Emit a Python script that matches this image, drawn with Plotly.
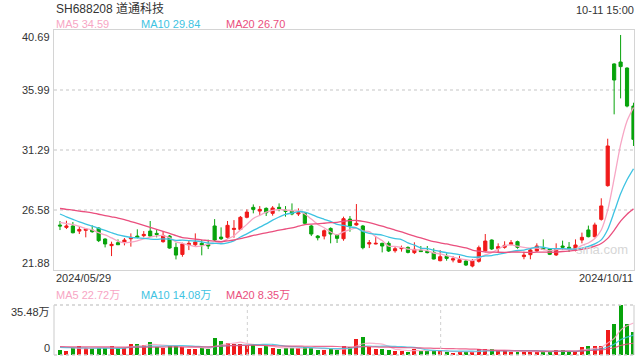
import plotly.graph_objects as go

# ---------------- data ----------------
title_text = "SH688208 道通科技"
time_text = "10-11 15:00"
date_labels = ["2024/05/29", "2024/10/11"]
price_ticks = [40.69, 35.99, 31.29, 26.58, 21.88]
vol_max = 35.48  # 万
price_ma_last = [34.59, 29.84, 26.70]
vol_ma_last = [22.72, 14.08, 8.35]

open_ = [25.40, 25.22, 25.33, 24.93, 24.99, 25.01, 25.17, 24.31, 23.79, 24.02,
         24.07, 24.33, 24.54, 24.57, 24.93, 24.75, 24.10, 24.54, 23.65, 23.10,
         23.86, 23.86, 23.97, 23.89, 25.33, 24.46, 24.44, 25.06, 25.06, 26.01,
         26.79, 26.50, 26.71, 26.32, 26.79, 26.58, 26.50, 26.27, 26.32, 25.33,
         24.54, 24.54, 25.14, 24.62, 24.33, 25.87, 25.41, 25.33, 23.92, 23.92,
         23.97, 23.97, 23.39, 23.55, 23.65, 23.24, 23.42, 23.34, 23.26, 22.61,
         22.95, 22.66, 22.48, 22.58, 22.19, 22.56, 23.39, 24.23, 23.56, 23.66,
         23.89, 24.10, 22.93, 23.08, 23.37, 23.60, 23.53, 23.06, 23.76, 23.66,
         23.45, 24.23, 25.02, 24.49, 25.85, 28.49, 38.03, 38.18, 37.71, 34.73]
high = [25.72, 25.74, 25.64, 25.33, 25.12, 25.38, 25.22, 24.36, 24.10, 24.28,
        24.39, 24.75, 25.07, 24.93, 25.72, 25.01, 24.93, 24.62, 24.02, 24.02,
        24.23, 24.75, 24.23, 24.26, 25.87, 25.22, 25.72, 25.79, 26.11, 26.63,
        27.02, 26.89, 26.79, 26.89, 27.10, 26.89, 27.10, 26.71, 26.42, 25.41,
        24.62, 25.06, 25.22, 24.70, 26.06, 26.11, 27.05, 25.41, 24.23, 24.49,
        24.02, 24.12, 23.71, 23.79, 23.73, 24.05, 23.76, 23.76, 23.58, 23.44,
        23.18, 22.97, 23.00, 22.64, 22.74, 23.79, 24.70, 24.28, 23.97, 24.13,
        24.23, 24.18, 23.32, 23.58, 23.97, 24.28, 23.58, 23.97, 24.18, 24.07,
        24.28, 24.81, 25.36, 25.59, 27.50, 32.17, 38.08, 40.30, 37.76, 34.99]
low = [25.01, 25.09, 24.75, 24.70, 24.44, 24.80, 24.07, 23.65, 22.97, 23.84,
       23.81, 23.71, 24.36, 24.44, 24.49, 24.44, 24.02, 23.55, 22.71, 22.92,
       23.44, 23.71, 23.03, 23.52, 24.15, 24.23, 24.33, 24.41, 25.01, 25.93,
       26.32, 26.19, 26.11, 26.14, 26.48, 26.06, 26.17, 26.11, 25.48, 24.54,
       24.20, 24.28, 23.97, 24.00, 24.17, 24.88, 25.35, 23.50, 23.60, 23.89,
       23.26, 23.29, 23.24, 23.32, 23.18, 23.13, 23.29, 23.18, 22.71, 22.56,
       22.61, 22.48, 22.43, 22.19, 22.09, 22.46, 23.34, 23.45, 23.24, 23.55,
       23.81, 23.55, 22.72, 22.72, 23.32, 23.45, 23.05, 22.98, 23.45, 23.29,
       23.34, 23.97, 24.44, 24.44, 25.75, 28.41, 34.08, 35.33, 34.63, 31.60]
close = [25.33, 25.33, 24.80, 25.06, 25.09, 24.88, 24.18, 23.92, 23.89, 23.86,
         24.23, 24.44, 24.44, 24.67, 24.54, 24.67, 24.59, 23.60, 23.05, 23.92,
         23.97, 24.07, 23.84, 23.76, 24.23, 24.33, 25.38, 25.14, 26.01, 26.42,
         26.63, 26.63, 26.37, 26.74, 26.69, 26.48, 26.27, 26.37, 25.54, 24.70,
         24.41, 24.96, 24.70, 24.36, 25.90, 25.33, 25.54, 23.63, 24.02, 23.97,
         23.76, 23.37, 23.55, 23.63, 23.26, 23.50, 23.32, 23.24, 22.74, 22.92,
         22.79, 22.76, 22.69, 22.27, 22.61, 23.63, 24.15, 23.53, 23.71, 23.81,
         24.02, 23.66, 23.05, 23.45, 23.76, 23.50, 23.11, 23.53, 23.66, 23.55,
         23.84, 24.44, 24.49, 25.41, 26.90, 31.60, 36.77, 37.82, 34.73, 32.12]
volume = [3.5, 2.8, 4.7, 6.4, 4.7, 4.7, 4.7, 4.7, 6.4, 4.7,
          5.2, 7.8, 7.8, 7.1, 9.2, 5.4, 5.2, 6.6, 6.6, 5.4,
          4.3, 4.3, 5.2, 4.3, 12.0, 9.7, 8.3, 7.7, 8.0, 7.1,
          7.0, 4.8, 6.5, 4.8, 4.3, 4.8, 5.1, 5.1, 5.5, 5.1,
          3.5, 3.5, 4.5, 3.5, 6.1, 6.0, 11.4, 12.8, 5.9, 4.3,
          4.3, 3.5, 2.8, 2.8, 2.4, 4.3, 2.8, 2.8, 2.8, 2.8,
          2.4, 1.7, 2.4, 2.4, 2.4, 4.3, 4.3, 4.3, 2.8, 2.8,
          2.4, 2.4, 2.4, 2.4, 2.4, 2.4, 2.4, 3.5, 3.5, 2.4,
          2.4, 5.9, 6.4, 6.3, 6.2, 18.0, 21.8, 35.48, 22.0, 16.3]

# moving-average values before enough in-window history exists
ma5_head = [25.62, 25.52, 25.43, 25.30]
ma10_head = [26.27, 26.05, 25.85, 25.65, 25.48, 25.32, 25.15, 24.98, 24.80]
ma20_head = [26.70, 26.64, 26.57, 26.50, 26.43, 26.35, 26.25, 26.15, 26.05, 25.95,
             25.83, 25.68, 25.53, 25.38, 25.22, 25.06, 24.90, 24.75, 24.58]
vma5_head = [6.0, 5.6, 5.1, 4.7]
vma10_head = [5.4, 5.3, 5.2, 5.1, 5.0, 4.95, 4.9, 4.85, 4.8]
vma20_head = [5.9, 5.85, 5.8, 5.8, 5.75, 5.75, 5.7, 5.7, 5.7, 5.65,
              5.65, 5.65, 5.6, 5.6, 5.6, 5.65, 5.65, 5.7, 5.7]


def moving_avg(vals, n, head):
    out = list(head)
    for i in range(n - 1, len(vals)):
        out.append(sum(vals[i - n + 1:i + 1]) / n)
    return out


n = len(close)
xs = list(range(n))
ma5 = moving_avg(close, 5, ma5_head)
ma10 = moving_avg(close, 10, ma10_head)
ma20 = moving_avg(close, 20, ma20_head)
vma5 = moving_avg(volume, 5, vma5_head)
vma10 = moving_avg(volume, 10, vma10_head)
vma20 = moving_avg(volume, 20, vma20_head)

# ---------------- style ----------------
RED = "#f01a1a"
GREEN = "#07a30b"
C_MA5 = "#f7a6c4"
C_MA10 = "#3ec3e2"
C_MA20 = "#ea4f7e"
BORDER = "#d4d4d4"
GRID = "#e2e2e2"
TXT = "#333333"
FONT = "Liberation Sans, Arial, Noto Sans CJK SC, sans-serif"

L, R, T, B = 54, 6, 30, 5
W, H = 640, 360
PW, PH = W - L - R, H - T - B


def px_x(x):
    return (x - L) / PW


def px_y(y):
    return (H - B - y) / PH


main_dom = [px_y(270), 1.0]
vol_dom = [0.0, px_y(305)]
x_lo, x_hi = -0.93, 89.08

fig = go.Figure()

fig.add_trace(go.Candlestick(
    x=xs, open=open_, high=high, low=low, close=close,
    increasing=dict(line=dict(color=RED, width=1), fillcolor=RED),
    decreasing=dict(line=dict(color=GREEN, width=1), fillcolor=GREEN),
    whiskerwidth=0, xaxis="x", yaxis="y", hoverinfo="skip",
))
for vals, col in [(ma5, C_MA5), (ma10, C_MA10), (ma20, C_MA20)]:
    fig.add_trace(go.Scatter(x=xs, y=vals, mode="lines",
                             line=dict(color=col, width=1.3, shape="spline", smoothing=0.6),
                             xaxis="x", yaxis="y", hoverinfo="skip"))

bar_colors = [RED if c >= o else GREEN for o, c in zip(open_, close)]
fig.add_trace(go.Bar(x=xs, y=volume, marker=dict(color=bar_colors, line=dict(width=0)),
                     width=0.62, xaxis="x2", yaxis="y2", hoverinfo="skip"))
for vals, col in [(vma5, C_MA5), (vma10, C_MA10), (vma20, C_MA20)]:
    fig.add_trace(go.Scatter(x=xs, y=vals, mode="lines",
                             line=dict(color=col, width=1.2, shape="spline", smoothing=0.6),
                             opacity=0.85, xaxis="x2", yaxis="y2", hoverinfo="skip"))

annotations = []


def add_text(text, x, y, xanchor="left", yanchor="middle", color=TXT, size=11, xref="paper", yref="paper"):
    annotations.append(dict(text=text, x=x, y=y, xref=xref, yref=yref, xanchor=xanchor,
                            yanchor=yanchor, showarrow=False, font=dict(family=FONT, size=size, color=color),
                            borderpad=0))


add_text(title_text, px_x(55), px_y(9), size=12)
add_text(time_text, px_x(635), px_y(10.5), xanchor="right")

ma_names = ["MA5", "MA10", "MA20"]
ma_cols = [C_MA5, C_MA10, C_MA20]
leg_x = [55, 140, 225]
for name, val, col, lx in zip(ma_names, price_ma_last, ma_cols, leg_x):
    add_text(f"{name} {val:.2f}", px_x(lx), px_y(24), color=col)
for name, val, col, lx in zip(ma_names, vol_ma_last, ma_cols, leg_x):
    add_text(f"{name} {val:.2f}万", px_x(lx), px_y(295), color=col)

for i, v in enumerate(price_ticks):
    ya = "top" if i == 0 else ("bottom" if i == len(price_ticks) - 1 else "middle")
    add_text(f"{v:.2f}", px_x(51), v, xanchor="right", yanchor=ya, yref="y")

add_text(f"{vol_max:.2f}万", px_x(51), px_y(312), xanchor="right")
add_text("0", px_x(51), px_y(348), xanchor="right")

add_text(date_labels[0], px_x(55), px_y(277.5))
add_text(date_labels[1], px_x(634), px_y(277.5), xanchor="right")
add_text("sina.com", px_x(602), px_y(249), xanchor="center", color="#d6d6d6", size=13)

shapes = []
# volume panel frame
shapes.append(dict(type="line", xref="paper", yref="paper", x0=0, x1=1, y0=vol_dom[1], y1=vol_dom[1],
                   line=dict(color="#d0d0d0", width=1.5, dash="dot")))
shapes.append(dict(type="line", xref="paper", yref="paper", x0=0, x1=1, y0=0, y1=0,
                   line=dict(color="#d0d0d0", width=1.5, dash="dot")))
for fx in (1 / 3, 2 / 3):
    shapes.append(dict(type="line", xref="paper", yref="paper", x0=fx, x1=fx, y0=0, y1=vol_dom[1],
                       line=dict(color="#d0d0d0", width=1, dash="dot")))
for fx in (0, 1):
    shapes.append(dict(type="line", xref="paper", yref="paper", x0=fx, x1=fx, y0=0, y1=vol_dom[1],
                       line=dict(color=BORDER, width=1.2)))

fig.update_layout(
    width=W, height=H,
    margin=dict(l=L, r=R, t=T, b=B),
    paper_bgcolor="white", plot_bgcolor="white",
    showlegend=False, hovermode=False,
    annotations=annotations, shapes=shapes,
    bargap=0,
    xaxis=dict(domain=[0, 1], range=[x_lo, x_hi], anchor="y", showgrid=False, zeroline=False,
               showticklabels=False, ticks="", showline=True, mirror=True, linecolor=BORDER, linewidth=1.2,
               rangeslider=dict(visible=False), fixedrange=True),
    yaxis=dict(domain=main_dom, range=[price_ticks[-1], price_ticks[0]], anchor="x",
               tickvals=price_ticks[1:-1], showticklabels=False, ticks="",
               showgrid=True, gridcolor=GRID, gridwidth=1.5, griddash="dot",
               zeroline=False, showline=True, mirror=True, linecolor=BORDER, linewidth=1.2, fixedrange=True),
    xaxis2=dict(domain=[0, 1], range=[x_lo, x_hi], anchor="y2", matches="x", showgrid=False,
                zeroline=False, showticklabels=False, ticks="", showline=False,
                rangeslider=dict(visible=False), fixedrange=True),
    yaxis2=dict(domain=vol_dom, range=[0, vol_max], anchor="x2", showgrid=False, zeroline=False,
                showticklabels=False, ticks="", showline=False, fixedrange=True),
)

fig.write_html("out.html", config={"displayModeBar": False},
               post_script="document.body.style.margin='0';document.body.style.overflow='hidden';")
